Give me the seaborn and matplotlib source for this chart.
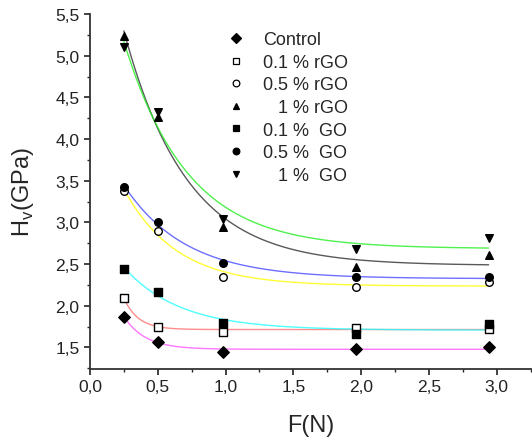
import numpy as np
import pandas as pd
import matplotlib
matplotlib.use("Agg")
import matplotlib.pyplot as plt
from matplotlib.ticker import MultipleLocator, FuncFormatter
from matplotlib.lines import Line2D
import seaborn as sns

# ---- data ----
force = [0.25, 0.5, 0.98, 1.96, 2.94]
labels = ["Control", "0.1 % rGO", "0.5 % rGO", "   1 % rGO",
          "0.1 %  GO", "0.5 %  GO", "   1 %  GO"]
control   = [1.87, 1.56, 1.45, 1.48, 1.50]
rgo_01    = [2.09, 1.75, 1.69, 1.73, 1.72]
rgo_05    = [3.38, 2.90, 2.35, 2.22, 2.29]
rgo_1     = [5.24, 4.27, 2.94, 2.47, 2.61]
go_01     = [2.44, 2.17, 1.79, 1.66, 1.78]
go_05     = [3.43, 3.01, 2.51, 2.34, 2.35]
go_1      = [5.10, 4.32, 3.04, 2.68, 2.81]
series = [control, rgo_01, rgo_05, rgo_1, go_01, go_05, go_1]

markers = ["D", "s", "o", "^", "s", "o", "v"]
filled = [True, False, False, True, True, True, True]
fit_colors = ["#ff55ff", "#ff7070", "#ffff00", "#303030", "#22ffff", "#4a4aff", "#22ee22"]

df = pd.DataFrame({
    "F": np.tile(force, len(series)),
    "Hv": np.concatenate(series),
    "sample": np.repeat(labels, len(force)),
})

sns.set_style("ticks")
plt.rcParams["font.family"] = ["Liberation Sans", "DejaVu Sans"]
plt.rcParams["mathtext.fontset"] = "custom"
plt.rcParams["mathtext.rm"] = "Liberation Sans"

fig = plt.figure(figsize=(5.32, 4.39), dpi=100)
ax = fig.add_axes([90 / 532, 1 - 370 / 439, 1 - 90 / 532, (370 - 15) / 439])


def exp_fit(x, y):
    x = np.asarray(x, float)
    y = np.asarray(y, float)
    best = None
    for t in np.linspace(0.03, 3.0, 1500):
        X = np.column_stack([np.ones_like(x), np.exp(-x / t)])
        coef, *_ = np.linalg.lstsq(X, y, rcond=None)
        sse = np.sum((X @ coef - y) ** 2)
        if best is None or sse < best[0]:
            best = (sse, coef, t)
    _, (y0, a), t = best
    return lambda xx: y0 + a * np.exp(-xx / t)


xs = np.linspace(min(force), max(force), 300)
for lab, col in zip(labels, fit_colors):
    sub = df[df["sample"] == lab]
    f = exp_fit(sub["F"], sub["Hv"])
    sns.lineplot(x=xs, y=f(xs), color=col, lw=1.0, alpha=0.8, ax=ax)

handles = []
for lab, m, fl in zip(labels, markers, filled):
    sub = df[df["sample"] == lab]
    size = 34 if m in ("D",) else 30
    sns.scatterplot(data=sub, x="F", y="Hv", marker=m, s=size,
                    color="black", facecolor="black" if fl else "white",
                    edgecolor="black", linewidth=1.0, ax=ax, zorder=5)
    handles.append(Line2D([], [], ls="none", marker=m, markersize=4.8,
                          markerfacecolor="black" if fl else "white",
                          markeredgecolor="black", markeredgewidth=0.9))

ax.set_xlim(0, 3.26)
ax.set_ylim(1.24, 5.5)
ax.xaxis.set_major_locator(MultipleLocator(0.5))
ax.xaxis.set_minor_locator(MultipleLocator(0.25))
ax.yaxis.set_major_locator(MultipleLocator(0.5))
ax.yaxis.set_minor_locator(MultipleLocator(0.25))
fmt = FuncFormatter(lambda v, p: f"{v:.1f}".replace(".", ","))
ax.xaxis.set_major_formatter(fmt)
ax.yaxis.set_major_formatter(fmt)
ax.tick_params(which="major", direction="out", length=4, width=1.2,
               labelsize=12.5, colors="#222222")
ax.tick_params(which="minor", direction="out", length=2.5, width=1.0)
for s in ("top", "right"):
    ax.spines[s].set_visible(False)
for s in ("left", "bottom"):
    ax.spines[s].set_linewidth(1.3)
    ax.spines[s].set_color("#333333")

ax.set_xlabel("F(N)", fontsize=17, labelpad=14)
ax.set_ylabel(r"H$_\mathregular{v}$(GPa)", fontsize=17, labelpad=14)

ax.legend(handles, labels, loc="upper left", bbox_to_anchor=(0.281, 0.987),
          frameon=False, fontsize=13, labelspacing=0.31, handlelength=1.0,
          handletextpad=1.0, borderpad=0.2)

fig.savefig("out.png", dpi=100)
